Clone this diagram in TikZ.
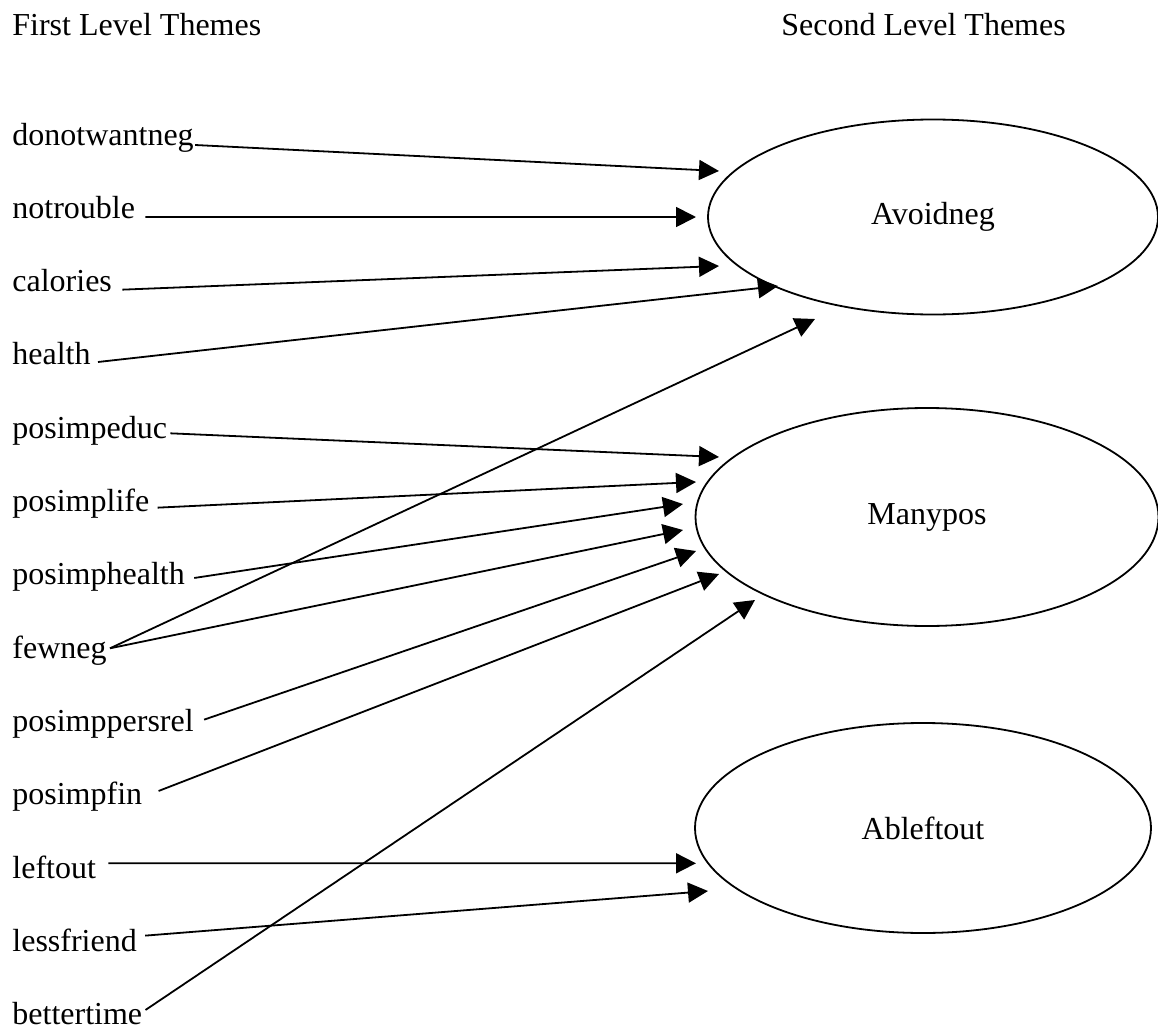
\documentclass[tikz,border=0pt]{standalone}
\usepackage{fontspec}
\setmainfont{Liberation Serif}
\usetikzlibrary{calc, shapes.geometric, arrows.meta, positioning}

\tikzset{
  lbl/.style={anchor=base west, inner sep=0pt, font=\fontsize{16}{19}\selectfont},
  theme/.style={draw, ellipse, line width=0.9pt, inner sep=0pt, outer sep=0pt, font=\fontsize{16}{19}\selectfont},
  link/.style={line width=0.9pt, -{Triangle[length=10pt,width=10pt]}}
}

\begin{document}
\begin{tikzpicture}[x=0.5pt, y=-0.5pt]
            \useasboundingbox (0,0) rectangle (1158,1033);
            \node[lbl] (first) at (12,35) {First Level Themes};
            \node[lbl] (second) at (781,35) {Second Level Themes};
            \foreach \name/\txt [count=\i from 0] in {dnw/donotwantneg, ntr/notrouble, cal/calories, hlt/health, ped/posimpeduc, plf/posimplife, phl/posimphealth, few/fewneg, ppr/posimppersrel, pfn/posimpfin, lft/leftout, lsf/lessfriend, btt/bettertime}
                \node[lbl] (\name) at (12,145+73.33*\i) {\txt};
            \node[theme, minimum width=225pt, minimum height=97.5pt] (avoid) at (933,217) {Avoidneg};
            \node[theme, minimum width=231.5pt, minimum height=109pt] (many) at (927,517) {Manypos};
            \node[theme, minimum width=228pt, minimum height=105pt] (able) at (923,828) {Ableftout};
            % arrow ends, next to the ellipses
            \coordinate (t1) at ($(avoid) + (-214,-46)$);
            \coordinate (t2) at ($(avoid) + (-237,0)$);
            \coordinate (t3) at ($(avoid) + (-214,49)$);
            \coordinate (t4) at ($(avoid) + (-155,69)$);
            \coordinate (t5) at ($(avoid) + (-118,102)$);
            \coordinate (m1) at ($(many) + (-208,-60)$);
            \coordinate (m2) at ($(many) + (-231,-35)$);
            \coordinate (m3) at ($(many) + (-244,-13)$);
            \coordinate (m4) at ($(many) + (-244,13)$);
            \coordinate (m5) at ($(many) + (-231,34)$);
            \coordinate (m6) at ($(many) + (-208,57)$);
            \coordinate (m7) at ($(many) + (-172,83)$);
            \coordinate (a1) at ($(able) + (-227,35.3)$);
            \coordinate (a2) at ($(able) + (-215,63)$);
            \foreach \src/\dx/\dy/\dst in {dnw/1/0/t1, ntr/10/-1.3/t2, cal/10/-2/t3, hlt/7/-3/t4, few/3/-10/t5, ped/3/-5/m1, plf/8/-4/m2, phl/9/-7/m3, few/3/-10/m4, ppr/10/-12/m5, pfn/16/-14/m6, btt/3/-15/m7, lft/12/-15/a1, lsf/8/-16/a2}
                \draw[link] ([shift={(\dx,\dy)}]\src.base east) -- (\dst);
        \end{tikzpicture}
\end{document}
